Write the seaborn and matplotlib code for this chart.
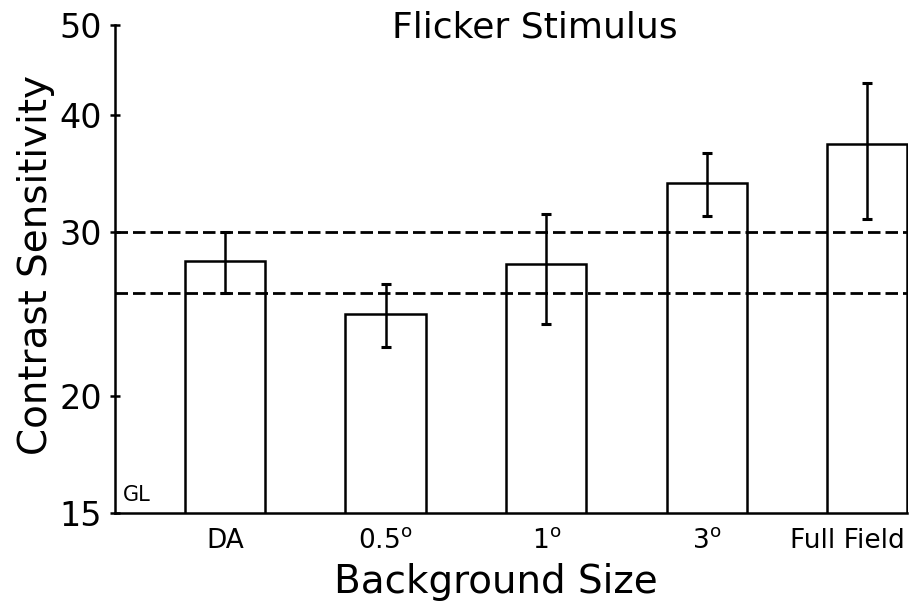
import matplotlib
matplotlib.use("Agg")
import matplotlib.pyplot as plt
import matplotlib.transforms as mtransforms
import seaborn as sns
import numpy as np
import pandas as pd

categories = ["DA", "0.5°", "1°", "3°", "Full Field"]
tick_labels = ["DA", r"0.5$^{\mathrm{o}}$", r"1$^{\mathrm{o}}$", r"3$^{\mathrm{o}}$", "Full Field"]
sensitivity = [27.9, 24.5, 27.7, 33.9, 37.3]
err_upper = [30.0, 26.4, 31.4, 36.5, 43.3]
err_lower = [25.8, 22.6, 23.9, 31.2, 31.0]
reference_lines = [30.0, 25.8]
y_ticks = [15, 20, 30, 40, 50]

sns.set_style("white")
plt.rcParams["font.family"] = ["DejaVu Sans"]
plt.rcParams["mathtext.fontset"] = "dejavusans"
plt.rcParams["text.color"] = "black"
plt.rcParams["axes.labelcolor"] = "black"
plt.rcParams["xtick.color"] = "black"
plt.rcParams["ytick.color"] = "black"

df = pd.DataFrame({"size": categories, "cs": sensitivity})

fig = plt.figure(figsize=(9.19, 6.08), dpi=100)
ax = fig.add_axes([115/919, 1 - 513/608, (907.5 - 115)/919, (513 - 25)/608])

sns.barplot(data=df, x="size", y="cs", ax=ax, width=0.5, color="white",
            edgecolor="black", linewidth=1.8, errorbar=None)

x = np.arange(len(categories))
vals = np.array(sensitivity)
yerr = np.vstack([vals - np.array(err_lower), np.array(err_upper) - vals])
ax.errorbar(x, vals, yerr=yerr, fmt="none", ecolor="black", elinewidth=1.8,
            capsize=3.8, capthick=2.2, zorder=5)

for v in reference_lines:
    ax.axhline(v, color="black", lw=2.0, ls=(0, (4.5, 1.8)), zorder=4)

ax.set_yscale("log")
ax.set_ylim(15, 50)
ax.set_xlim(-0.685, 4.25)
ax.set_yticks(y_ticks)
ax.set_yticklabels([str(t) for t in y_ticks])
ax.yaxis.set_minor_locator(matplotlib.ticker.NullLocator())
ax.set_xticks(x)
ax.set_xticklabels(tick_labels)

ax.tick_params(axis="y", which="major", direction="inout", length=7, width=1.8,
               labelsize=24, pad=6, left=True, colors="black")
ax.tick_params(axis="x", length=0, labelsize=19, pad=11, colors="black")

for s in ["top", "right"]:
    ax.spines[s].set_visible(False)
for s in ["left", "bottom"]:
    ax.spines[s].set_linewidth(1.8)
    ax.spines[s].set_color("black")

# shift last tick label left so it stays within the figure
lbls = ax.get_xticklabels()
off = mtransforms.ScaledTranslation(-20/100, 0, fig.dpi_scale_trans)
lbls[-1].set_transform(lbls[-1].get_transform() + off)

ax.set_ylabel("Contrast Sensitivity", fontsize=28, color="black")
ax.yaxis.set_label_coords(-0.076, 0.508)
ax.set_xlabel("Background Size", fontsize=28, color="black")
ax.xaxis.set_label_coords(0.481, -0.1025)

fig.text(535/919, 1 - 28/608, "Flicker Stimulus", fontsize=26, ha="center", va="center",
         color="black")
ax.text(0.01, 0.037, "GL", transform=ax.transAxes, fontsize=15, ha="left", va="center",
        color="black")

fig.savefig("out.png", dpi=100)
